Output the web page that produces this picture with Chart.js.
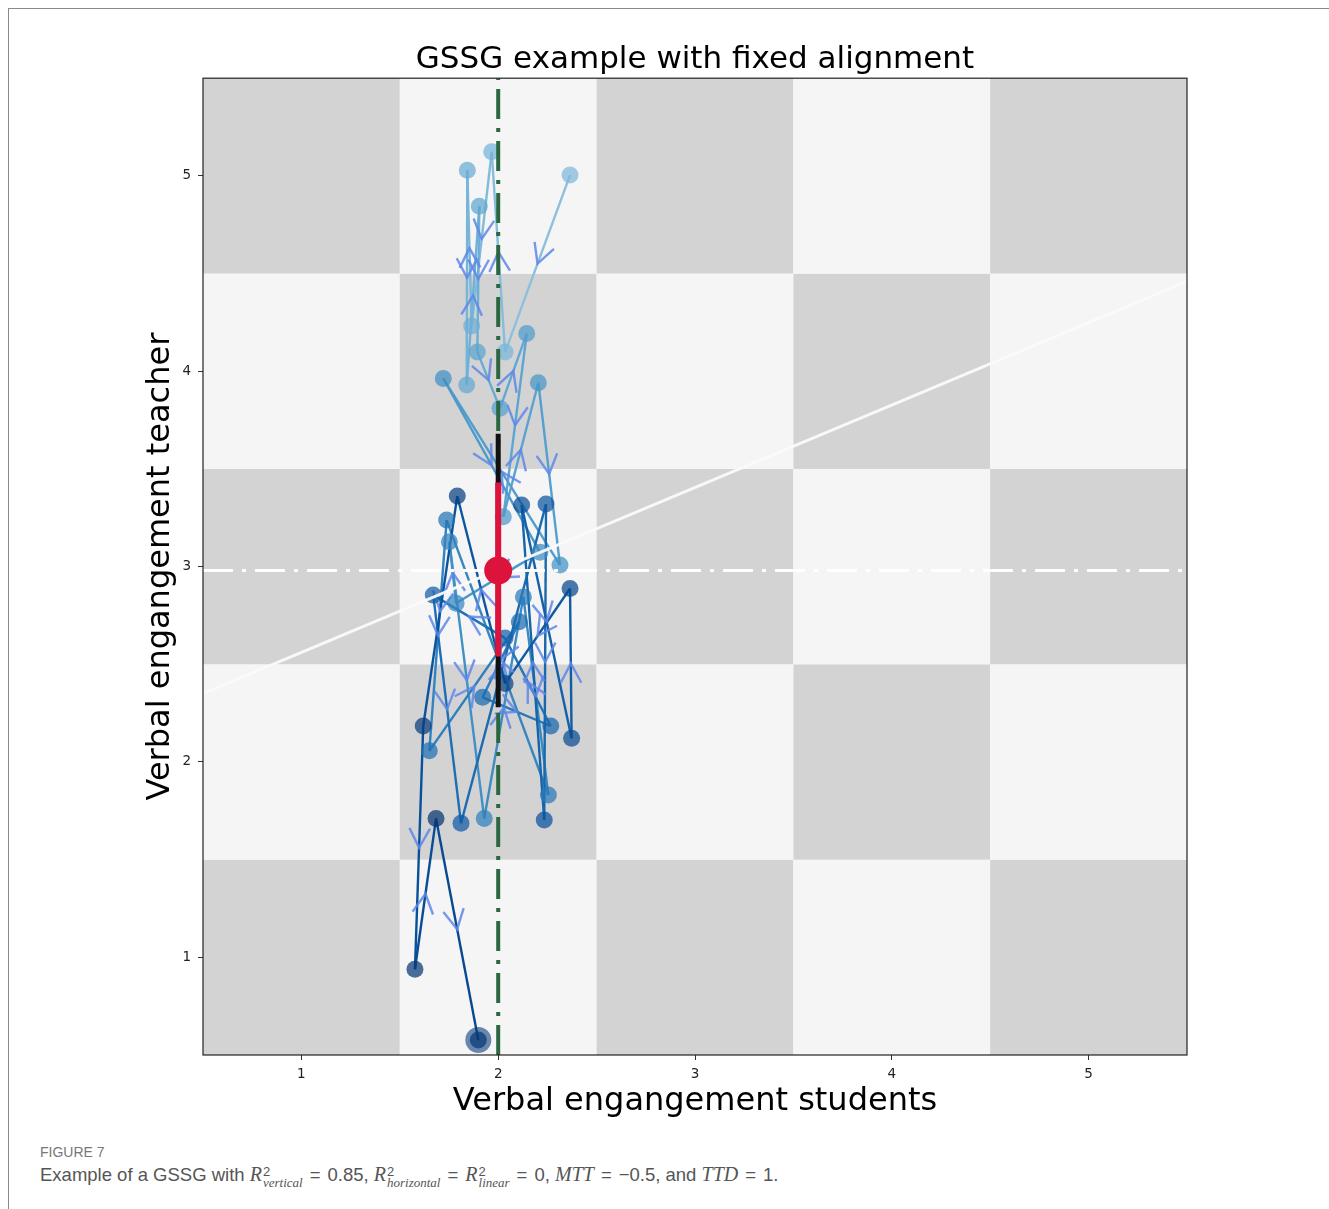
<!DOCTYPE html>
<html>
<head>
<meta charset="utf-8">
<title>GSSG example with fixed alignment</title>
<script src="https://cdn.jsdelivr.net/npm/chart.js@4.4.1/dist/chart.umd.min.js"></script>
<style>
  html, body { margin: 0; padding: 0; background: #fff; }
  body { width: 1329px; height: 1209px; position: relative; overflow: hidden; }
  #frame { position: absolute; left: 8px; top: 8px; width: 1400px; height: 1300px;
           border-left: 1px solid #8a8a8a; border-top: 1px solid #8a8a8a; }
  #chartBox { position: absolute; left: 0; top: 0; width: 1329px; height: 1130px; }
  #figLabel { position: absolute; left: 40px; top: 1144px; font-family: "Liberation Sans", Arial, sans-serif;
              font-size: 14px; color: #777; }
  #caption { position: absolute; left: 40px; top: 1163px; font-family: "Liberation Sans", Arial, sans-serif;
             font-size: 18.5px; color: #555; white-space: nowrap; }
  #caption i { font-family: "Liberation Serif", serif; font-size: 20px; }
  #caption .eq { display: inline-block; padding: 0 7px; }
  .ss { display: inline-block; vertical-align: -6px; line-height: 11px; font-size: 13px; margin-left: 1px; }
  .ss span { display: block; }
  .ss .sub { font-style: italic; font-family: "Liberation Serif", serif; }
</style>
</head>
<body>
<div id="frame"></div>
<div id="chartBox"><canvas id="chart" width="1329" height="1130"></canvas></div>
<div id="figLabel">FIGURE 7</div>
<div id="caption">Example of a GSSG with <i>R</i><span class="ss"><span>2</span><span class="sub">vertical</span></span><span class="eq">=</span>0.85, <i>R</i><span class="ss"><span>2</span><span class="sub">horizontal</span></span><span class="eq">=</span><i>R</i><span class="ss"><span>2</span><span class="sub">linear</span></span><span class="eq">=</span>0, <i>MTT</i><span class="eq">=</span>−0.5, and <i>TTD</i><span class="eq">=</span>1.</div>

<script>
// Trajectory through the state space (students, teacher), in time order
const trajX = [2.365, 2.035, 1.967, 1.865, 1.843, 1.840, 1.904, 1.894, 2.009, 2.145,
               2.026, 2.204, 2.314, 1.721, 2.212, 1.786, 1.752, 1.929, 2.128, 2.255,
               1.738, 1.650, 2.107, 1.921, 2.267, 2.035, 1.670, 1.811, 2.243, 2.234,
               2.119, 2.373, 2.365, 2.035, 1.792, 1.619, 1.577, 1.684, 1.899];
const trajY = [5.004, 4.098, 5.123, 4.231, 5.029, 3.929, 4.845, 4.099, 3.810, 4.193,
               3.255, 3.941, 3.008, 3.963, 3.074, 2.812, 3.127, 1.711, 2.845, 1.831,
               3.238, 2.057, 2.718, 2.331, 2.184, 2.634, 2.854, 1.686, 3.320, 1.703,
               3.315, 2.121, 2.888, 2.402, 3.361, 2.184, 0.939, 1.711, 0.577];

// Grid cells and ticks
const cellCenters = [1, 2, 3, 4, 5];
const xTickValues = [1, 2, 3, 4, 5];
const yTickValues = [1, 2, 3, 4, 5];
const axisMin = 0.5, axisMax = 5.5;

// Summary lines
const alignX = 2;                 // fixed alignment (vertical)
const meanTeacher = 2.98;         // horizontal mean line / centre dot
const regX = [0.5, 5.5];          // linear fit
const regY = [2.35, 4.46];
const innerRange = [2.54, 3.43];  // red band around the centre
const outerRange = [2.28, 3.68];  // black band

// Blues colour map
const bluesStops = [[0, [247,251,255]], [0.125, [222,235,247]], [0.25, [198,219,239]],
  [0.375, [158,202,225]], [0.5, [107,174,214]], [0.625, [66,146,198]],
  [0.75, [33,113,181]], [0.875, [8,81,156]], [1, [8,48,107]]];
function blues(v, a) {
  for (let i = 1; i < bluesStops.length; i++) {
    if (v <= bluesStops[i][0]) {
      const [v0, c0] = bluesStops[i - 1], [v1, c1] = bluesStops[i];
      const t = (v - v0) / (v1 - v0);
      const c = c0.map((k, j) => Math.round(k + (c1[j] - k) * t));
      return `rgba(${c[0]},${c[1]},${c[2]},${a})`;
    }
  }
  return `rgba(8,48,107,${a})`;
}

const n = trajX.length;
const trajPoints = trajX.map((x, i) => ({ x, y: trajY[i] }));
const lineColors = trajX.map((_, i) => blues(0.42 + 0.5 * i / (n - 1), 1));
const pointColors = trajX.map((_, i) => blues(0.45 + 0.55 * i / (n - 1), 0.72));

const FONT = "'DejaVu Sans', sans-serif";

// Checkerboard background and plot frame
const boardPlugin = {
  id: 'board',
  beforeDatasetsDraw(chart) {
    const { ctx, scales: { x, y } } = chart;
    ctx.save();
    for (const cx of cellCenters) {
      for (const cy of cellCenters) {
        const x0 = x.getPixelForValue(cx - 0.5), x1 = x.getPixelForValue(cx + 0.5);
        const y0 = y.getPixelForValue(cy + 0.5), y1 = y.getPixelForValue(cy - 0.5);
        ctx.fillStyle = (cx + cy) % 2 === 0 ? '#d3d3d3' : '#f5f5f5';
        ctx.fillRect(x0, y0, x1 - x0, y1 - y0);
      }
    }
    ctx.restore();
  },
  afterDatasetsDraw(chart) {
    const { ctx, chartArea } = chart;
    ctx.save();
    ctx.strokeStyle = '#222';
    ctx.lineWidth = 1.2;
    ctx.strokeRect(chartArea.left, chartArea.top, chartArea.right - chartArea.left, chartArea.bottom - chartArea.top);
    ctx.restore();
  }
};

// Direction chevrons at the middle of each step of the trajectory
const chevronPlugin = {
  id: 'chevrons',
  afterDatasetDraw(chart, args) {
    if (chart.data.datasets[args.index].label !== 'trajectory') return;
    const { ctx, chartArea, scales: { x, y } } = chart;
    ctx.save();
    ctx.beginPath();
    ctx.rect(chartArea.left, chartArea.top, chartArea.right - chartArea.left, chartArea.bottom - chartArea.top);
    ctx.clip();
    ctx.strokeStyle = 'rgba(95,135,232,0.85)';
    ctx.lineWidth = 2.4;
    ctx.lineCap = 'butt';
    const arm = 22, spread = 28 * Math.PI / 180;
    for (let i = 0; i < n - 1; i++) {
      const ax = x.getPixelForValue(trajX[i]), ay = y.getPixelForValue(trajY[i]);
      const bx = x.getPixelForValue(trajX[i + 1]), by = y.getPixelForValue(trajY[i + 1]);
      const mx = (ax + bx) / 2, my = (ay + by) / 2;
      const back = Math.atan2(ay - by, ax - bx);
      ctx.beginPath();
      ctx.moveTo(mx + arm * Math.cos(back - spread), my + arm * Math.sin(back - spread));
      ctx.lineTo(mx, my);
      ctx.lineTo(mx + arm * Math.cos(back + spread), my + arm * Math.sin(back + spread));
      ctx.stroke();
    }
    ctx.restore();
  }
};

const lineDs = (label, pts, color, width, dash, order) => ({
  type: 'line', label, data: pts, borderColor: color, borderWidth: width,
  borderDash: dash, pointRadius: 0, fill: false, order, tension: 0
});

new Chart(document.getElementById('chart'), {
  type: 'scatter',
  data: {
    datasets: [
      {
        type: 'line', label: 'trajectory', data: trajPoints, borderWidth: 2.4,
        borderColor: lineColors[0], segment: { borderColor: c => lineColors[c.p0DataIndex] },
        pointRadius: 0, fill: false, tension: 0, order: 20
      },
      {
        type: 'scatter', label: 'states', data: trajPoints, pointRadius: 8.5,
        pointBackgroundColor: pointColors, pointBorderWidth: 0, order: 19
      },
      {
        type: 'scatter', label: 'final', data: [trajPoints[n - 1]], pointRadius: 13,
        pointBackgroundColor: blues(0.95, 0.6), pointBorderWidth: 0, order: 18
      },
      lineDs('alignment', [{ x: alignX, y: axisMin }, { x: alignX, y: axisMax }], '#2c6640', 4, [30, 9, 4, 9], 10),
      lineDs('mean', [{ x: axisMin, y: meanTeacher }, { x: axisMax, y: meanTeacher }], 'rgba(255,255,255,0.95)', 3, [30, 9, 4, 9], 9),
      lineDs('linear', regX.map((v, i) => ({ x: v, y: regY[i] })), 'rgba(250,250,250,0.95)', 3, [], 8),
      lineDs('outer', [{ x: alignX, y: outerRange[0] }, { x: alignX, y: outerRange[1] }], '#111', 5, [], 7),
      lineDs('inner', [{ x: alignX, y: innerRange[0] }, { x: alignX, y: innerRange[1] }], '#dc143c', 6, [], 6),
      {
        type: 'scatter', label: 'centre', data: [{ x: alignX, y: meanTeacher }], pointRadius: 14,
        pointBackgroundColor: '#dc143c', pointBorderWidth: 0, order: 1
      }
    ]
  },
  options: {
    responsive: false,
    animation: false,
    events: [],
    layout: { padding: { left: 0, right: 142, top: 0, bottom: 0 } },
    plugins: {
      legend: { display: false },
      tooltip: { enabled: false },
      title: {
        display: true, fullSize: false, text: 'GSSG example with fixed alignment', color: '#000',
        font: { family: FONT, size: 31, weight: 'normal' }, padding: { top: 41, bottom: 0 }
      }
    },
    scales: {
      x: {
        type: 'linear', min: axisMin, max: axisMax,
        afterBuildTicks: s => { s.ticks = xTickValues.map(v => ({ value: v })); },
        afterFit: s => { s.height = 75; },
        ticks: { font: { family: FONT, size: 13.5 }, color: '#222', padding: 6, maxRotation: 0 },
        grid: { drawOnChartArea: false, tickLength: 5, color: '#333', lineWidth: 1 },
        border: { display: false },
        title: {
          display: true, text: 'Verbal engangement students', color: '#000',
          font: { family: FONT, size: 32, weight: 'normal' }, padding: { top: 0, bottom: 9 }
        }
      },
      y: {
        type: 'linear', min: axisMin, max: axisMax,
        afterBuildTicks: s => { s.ticks = yTickValues.map(v => ({ value: v })); },
        afterFit: s => { s.width = 203; },
        ticks: { font: { family: FONT, size: 13.5 }, color: '#222', padding: 7 },
        grid: { drawOnChartArea: false, tickLength: 5, color: '#333', lineWidth: 1 },
        border: { display: false },
        title: {
          display: true, text: 'Verbal engangement teacher', color: '#000',
          font: { family: FONT, size: 32, weight: 'normal' }, padding: { top: 141, bottom: 0 }
        }
      }
    }
  },
  plugins: [boardPlugin, chevronPlugin]
});
</script>
</body>
</html>
